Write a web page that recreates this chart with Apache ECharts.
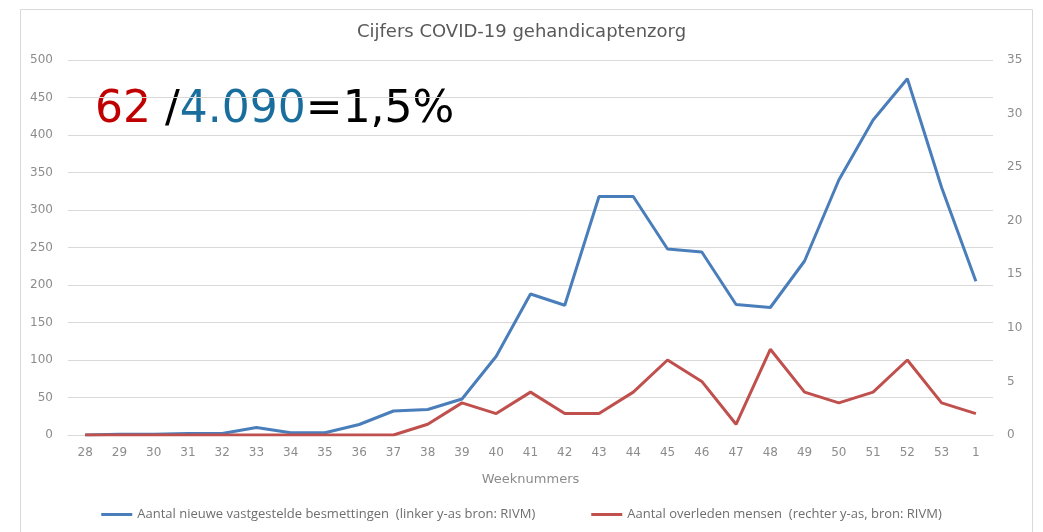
<!DOCTYPE html>
<html><head><meta charset="utf-8">
<script src="https://cdn.jsdelivr.net/npm/echarts@6/dist/echarts.min.js"></script>
<style>html,body{margin:0;padding:0;background:#fff}#c{width:1043px;height:532px}</style>
</head><body><div id="c"></div>
<script>
const weeks = ['28','29','30','31','32','33','34','35','36','37','38','39','40','41','42','43','44','45','46','47','48','49','50','51','52','53','1'];
const besmettingen = [0,1,1,2,2,10,3,3,14,32,34,48,105,188,173,318,318,248,244,174,170,232,340,420,475,330,205];
const overleden = [0,0,0,0,0,0,0,0,0,0,1,3,2,4,2,2,4,7,5,1,8,4,3,4,7,3,2];
const seriesNames = ['Aantal nieuwe vastgestelde besmettingen  (linker y-as bron: RIVM)', 'Aantal overleden mensen  (rechter y-as, bron: RIVM)'];
const titleText = 'Cijfers COVID-19 gehandicaptenzorg';
const xAxisName = 'Weeknummers';

const chart = echarts.init(document.getElementById('c'));
const lab = {color:'#8c8c8c', fontSize:12, fontFamily:'DejaVu Sans'};
chart.setOption({
  backgroundColor:'#fff',
  animation:false,
  title:{text:titleText,left:'center',top:18,textStyle:{color:'#595959',fontSize:18,fontWeight:'normal',fontFamily:'DejaVu Sans'}},
  legend:{bottom:6,left:'center',itemWidth:31,itemHeight:3,icon:'rect',itemGap:56,
    textStyle:{color:'#6e6e6e',fontSize:13,fontFamily:'Open Sans'}},
  grid:{left:68,right:50,top:60,bottom:97},
  xAxis:{type:'category',data:weeks,boundaryGap:true,
    axisLine:{lineStyle:{color:'#d9d9d9'}},axisTick:{show:false},
    axisLabel:Object.assign({margin:12},lab),
    name:xAxisName,nameLocation:'middle',nameGap:38,nameTextStyle:{color:'#8c8c8c',fontSize:13,fontFamily:'DejaVu Sans'}},
  yAxis:[
    {type:'value',min:0,max:500,interval:50,axisLabel:Object.assign({margin:15},lab),
      axisLine:{show:false},axisTick:{show:false},splitLine:{lineStyle:{color:'#d9d9d9'}}},
    {type:'value',min:0,max:35,interval:5,position:'right',axisLabel:Object.assign({margin:14},lab),
      axisLine:{show:false},axisTick:{show:false},splitLine:{show:false}}
  ],
  series:[
    {name:seriesNames[0],type:'line',data:besmettingen,yAxisIndex:0,showSymbol:false,
      lineStyle:{color:'#4a7ebb',width:3},itemStyle:{color:'#4a7ebb'}},
    {name:seriesNames[1],type:'line',data:overleden,yAxisIndex:1,showSymbol:false,
      lineStyle:{color:'#c0504d',width:3},itemStyle:{color:'#c0504d'}}
  ],
  graphic:[
    {type:'rect',left:18,top:7,shape:{width:1012,height:540},style:{fill:'none',stroke:'#d9d9d9',lineWidth:1},silent:true,z:-1},
    {type:'text',left:95,top:89,style:{
      text:'{r|62} {k|/}{b|4.090}{k|=1,5%}',
      rich:{
        r:{fill:'#c00000',fontSize:44,fontFamily:'DejaVu Sans'},
        b:{fill:'#1a6e9e',fontSize:44,fontFamily:'DejaVu Sans'},
        k:{fill:'#000',fontSize:44,fontFamily:'DejaVu Sans'}
      },fontSize:44,fontFamily:'DejaVu Sans'}}
  ]
});
</script></body></html>
